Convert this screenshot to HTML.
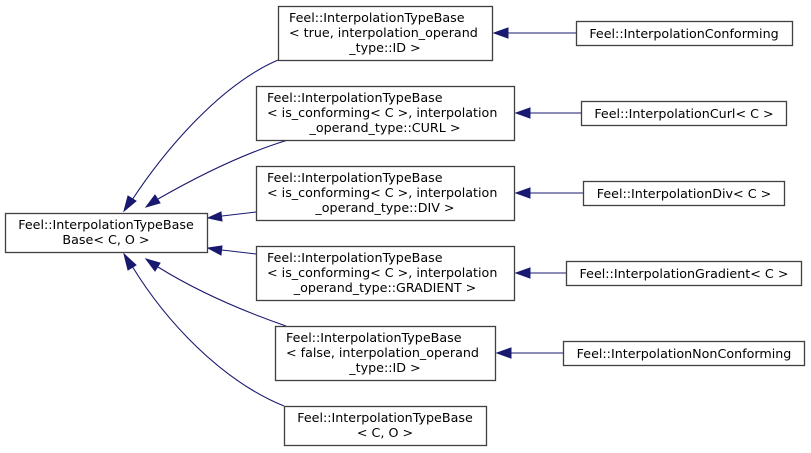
<!DOCTYPE html>
<html><head><meta charset="utf-8"><style>
html,body{margin:0;padding:0;background:#fff;width:811px;height:453px;overflow:hidden}
text{font-family:"DejaVu Sans","Liberation Sans",sans-serif;font-size:12.7px;fill:#000}
rect{fill:#fff;stroke:#404040;stroke-width:1.3}
path{fill:none;stroke:#191970;stroke-width:1.1}
polygon{fill:#191970;stroke:#191970}
</style></head><body>
<svg width="811" height="453" viewBox="0 0 811 453" xmlns="http://www.w3.org/2000/svg">
<path d="M278,60 C220,85 165,150 132,200"/><polygon points="124,211 128,196 136,201"/>
<path d="M288,140 C245,153 200,175 158,199"/><polygon points="146,207 155,195 160,203"/>
<path d="M256,212 L222,216"/><polygon points="208,218 221,212 222,221"/>
<path d="M256,254 L222,250"/><polygon points="208,248 222,246 221,255"/>
<path d="M286,326 C240,310 195,290 158,267"/><polygon points="146,259 160,263 155,271"/>
<path d="M284,406 C220,380 165,320 132,266"/><polygon points="124,254 136,265 128,270"/>
<path d="M576,33 L508,33"/><polygon points="494,33 508,28 508,38"/>
<path d="M581,113 L530,113"/><polygon points="516,113 530,108 530,118"/>
<path d="M583,193 L530,193"/><polygon points="516,193 530,188 530,198"/>
<path d="M566,273 L530,273"/><polygon points="516,273 530,268 530,278"/>
<path d="M563,353 L511,353"/><polygon points="497,353 511,348 511,358"/>
<rect x="5.5" y="213.5" width="202" height="39"/>
<text x="106" y="229" text-anchor="middle">Feel::InterpolationTypeBase</text>
<text x="106" y="244" text-anchor="middle">Base&lt; C, O &gt;</text>
<rect x="278.5" y="6.5" width="214" height="54"/>
<text x="289" y="22">Feel::InterpolationTypeBase</text>
<text x="289" y="37">&lt; true, interpolation_operand</text>
<text x="385" y="52" text-anchor="middle">_type::ID &gt;</text>
<rect x="256.5" y="86.5" width="258" height="54"/>
<text x="267" y="102">Feel::InterpolationTypeBase</text>
<text x="267" y="117">&lt; is_conforming&lt; C &gt;, interpolation</text>
<text x="385" y="132" text-anchor="middle">_operand_type::CURL &gt;</text>
<rect x="256.5" y="166.5" width="258" height="54"/>
<text x="267" y="182">Feel::InterpolationTypeBase</text>
<text x="267" y="197">&lt; is_conforming&lt; C &gt;, interpolation</text>
<text x="385" y="212" text-anchor="middle">_operand_type::DIV &gt;</text>
<rect x="256.5" y="246.5" width="258" height="54"/>
<text x="267" y="262">Feel::InterpolationTypeBase</text>
<text x="267" y="277">&lt; is_conforming&lt; C &gt;, interpolation</text>
<text x="385" y="292" text-anchor="middle">_operand_type::GRADIENT &gt;</text>
<rect x="275.5" y="326.5" width="220" height="54"/>
<text x="286" y="342">Feel::InterpolationTypeBase</text>
<text x="286" y="357">&lt; false, interpolation_operand</text>
<text x="385" y="372" text-anchor="middle">_type::ID &gt;</text>
<rect x="284.5" y="406.5" width="202" height="39"/>
<text x="385" y="422" text-anchor="middle">Feel::InterpolationTypeBase</text>
<text x="385" y="437" text-anchor="middle">&lt; C, O &gt;</text>
<rect x="576.5" y="21.5" width="216" height="24"/>
<text x="684" y="38" text-anchor="middle">Feel::InterpolationConforming</text>
<rect x="581.5" y="101.5" width="205" height="24"/>
<text x="684" y="118" text-anchor="middle">Feel::InterpolationCurl&lt; C &gt;</text>
<rect x="583.5" y="181.5" width="201" height="24"/>
<text x="684" y="198" text-anchor="middle">Feel::InterpolationDiv&lt; C &gt;</text>
<rect x="566.5" y="261.5" width="235" height="24"/>
<text x="684" y="278" text-anchor="middle">Feel::InterpolationGradient&lt; C &gt;</text>
<rect x="563.5" y="341.5" width="241" height="24"/>
<text x="684" y="358" text-anchor="middle">Feel::InterpolationNonConforming</text>
</svg>
</body></html>
